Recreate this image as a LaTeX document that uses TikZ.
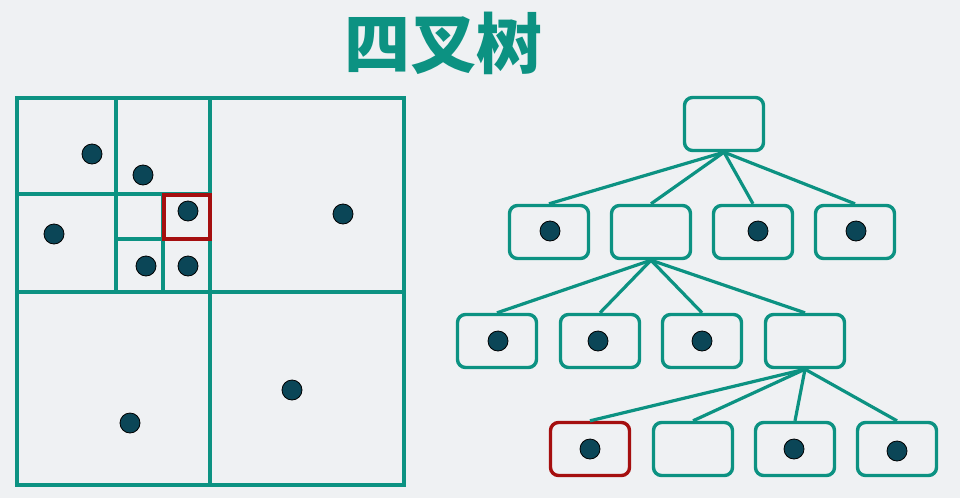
\documentclass[tikz,border=0pt]{standalone}
\usepackage{fontspec}
\newfontfamily\cjk{Noto Sans CJK SC}
\definecolor{teal1}{HTML}{0C9282}
\definecolor{bgc}{HTML}{EFF1F3}
\definecolor{dotc}{HTML}{0B4657}
\definecolor{redc}{HTML}{A50F0F}
\tikzset{
  grid/.style={draw=teal1, line width=3.3pt},
  pt/.style={circle, fill=dotc, draw=black, line width=0.8pt, minimum size=20pt, inner sep=0pt},
  tbox/.style={rectangle, rounded corners=8pt, draw=teal1, line width=3.4pt, minimum width=79pt, minimum height=53pt, inner sep=0pt},
  redbox/.style={tbox, draw=redc},
  conn/.style={draw=teal1, line width=3.2pt},
}
\begin{document}
\begin{tikzpicture}[x=1pt,y=-1pt]
\fill[bgc] (0,0) rectangle (960,498);
\useasboundingbox (0,0) rectangle (960,498);
% title
\node (title) at (443,43) {\cjk\bfseries\fontsize{66pt}{66pt}\selectfont\color{teal1}四叉树};
% quadtree plan
\draw[grid] (17,98) rectangle (404,485);
\draw[grid] (210,98) -- (210,485);
\draw[grid] (17,292) -- (404,292);
\draw[grid] (116,98) -- (116,292);
\draw[grid] (17,194) -- (210,194);
\draw[grid] (163,194) -- (163,292);
\draw[grid] (116,239) -- (210,239);
\draw[draw=redc, line width=3.3pt] (164,195) rectangle (210,239);
\node[pt] (p1) at (92,154) {};
\node[pt] (p2) at (143,175) {};
\node[pt] (p3) at (188,211) {};
\node[pt] (p4) at (54,234) {};
\node[pt] (p5) at (146,266) {};
\node[pt] (p6) at (188,266) {};
\node[pt] (p7) at (343,214) {};
\node[pt] (p8) at (292,390) {};
\node[pt] (p9) at (130,423) {};
% tree
\node[tbox] (r) at (724,124) {};
\node[tbox] (a1) at (549,232) {};
\node[tbox] (a2) at (651,232) {};
\node[tbox] (a3) at (753,232) {};
\node[tbox] (a4) at (855,232) {};
\node[tbox] (b1) at (497,341) {};
\node[tbox] (b2) at (600,341) {};
\node[tbox] (b3) at (702,341) {};
\node[tbox] (b4) at (805,341) {};
\node[redbox] (c1) at (590,449) {};
\node[tbox] (c2) at (693,449) {};
\node[tbox] (c3) at (795,449) {};
\node[tbox] (c4) at (897,449) {};
\foreach \n in {a1,a2,a3,a4} \draw[conn] (r.south) -- (\n.north);
\foreach \n in {b1,b2,b3,b4} \draw[conn] (a2.south) -- (\n.north);
\foreach \n in {c1,c2,c3,c4} \draw[conn] (b4.south) -- (\n.north);
\node[pt] (d1) at (550,231) {};
\node[pt] (d3) at (758,231) {};
\node[pt] (d4) at (856,231) {};
\node[pt] (e1) at (498,341) {};
\node[pt] (e2) at (598,341) {};
\node[pt] (e3) at (702,341) {};
\node[pt] (f1) at (590,449) {};
\node[pt] (f3) at (794,449) {};
\node[pt] (f4) at (897,451) {};
\end{tikzpicture}
\end{document}
